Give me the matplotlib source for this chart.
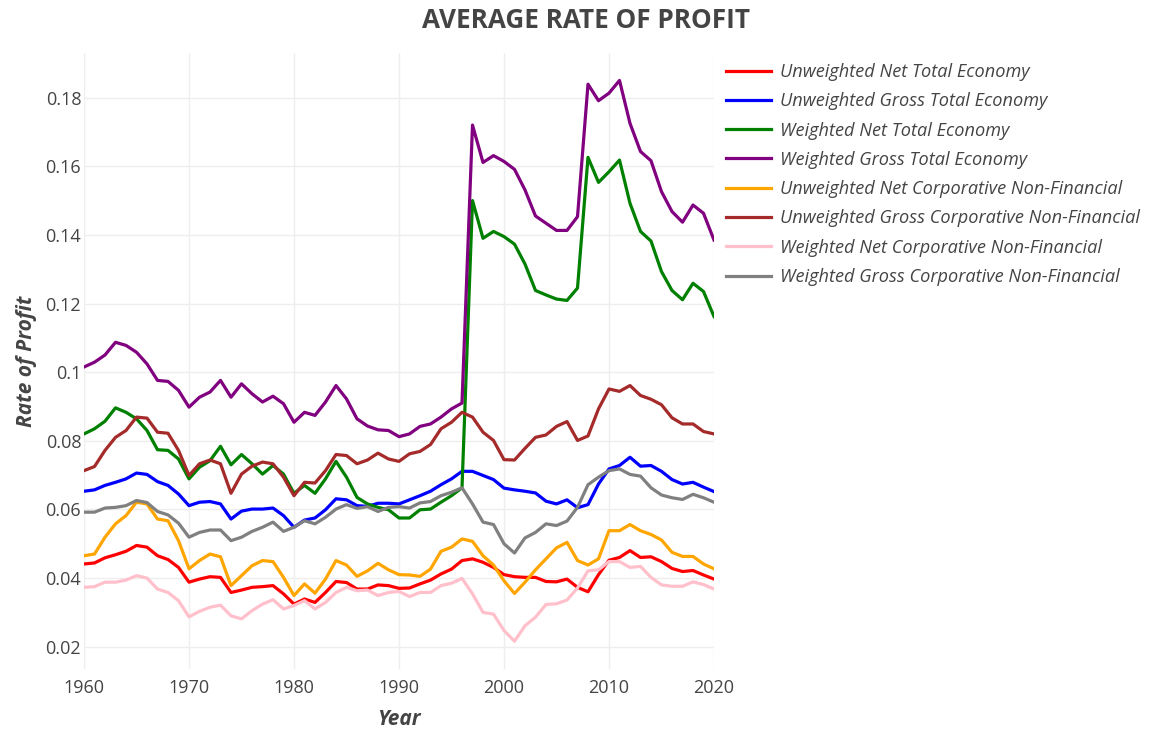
import matplotlib
matplotlib.use("Agg")
import matplotlib.pyplot as plt
from matplotlib.ticker import FuncFormatter

years = list(range(1960, 2021))

unweighted_net_total = [
    0.0441, 0.0444, 0.0459, 0.0468, 0.0478, 0.0495, 0.0490, 0.0465, 0.0454, 0.0431,
    0.0388, 0.0397, 0.0404, 0.0402, 0.0358, 0.0365, 0.0373, 0.0375, 0.0378, 0.0354,
    0.0324, 0.0339, 0.0329, 0.0358, 0.0390, 0.0387, 0.0368, 0.0368, 0.0380, 0.0378,
    0.0370, 0.0371, 0.0383, 0.0394, 0.0412, 0.0426, 0.0451, 0.0456, 0.0446, 0.0431,
    0.0410, 0.0404, 0.0402, 0.0402, 0.0390, 0.0389, 0.0397, 0.0373, 0.0360, 0.0410,
    0.0452, 0.0460, 0.0480, 0.0460, 0.0462, 0.0448, 0.0428, 0.0419, 0.0422, 0.0409,
    0.0397]
unweighted_gross_total = [
    0.0653, 0.0657, 0.0670, 0.0679, 0.0689, 0.0706, 0.0702, 0.0681, 0.0670, 0.0645,
    0.0611, 0.0621, 0.0623, 0.0616, 0.0572, 0.0595, 0.0601, 0.0601, 0.0604, 0.0582,
    0.0548, 0.0569, 0.0575, 0.0599, 0.0631, 0.0628, 0.0611, 0.0609, 0.0618, 0.0618,
    0.0616, 0.0628, 0.0640, 0.0653, 0.0672, 0.0689, 0.0711, 0.0711, 0.0699, 0.0687,
    0.0662, 0.0657, 0.0653, 0.0648, 0.0624, 0.0616, 0.0628, 0.0605, 0.0614, 0.0674,
    0.0718, 0.0728, 0.0752, 0.0726, 0.0728, 0.0711, 0.0687, 0.0674, 0.0679, 0.0665,
    0.0652]
weighted_net_total = [
    0.0820, 0.0835, 0.0857, 0.0896, 0.0883, 0.0864, 0.0830, 0.0774, 0.0772, 0.0747,
    0.0689, 0.0723, 0.0742, 0.0784, 0.0730, 0.0760, 0.0733, 0.0703, 0.0728, 0.0703,
    0.0647, 0.0670, 0.0647, 0.0689, 0.0740, 0.0694, 0.0635, 0.0616, 0.0606, 0.0599,
    0.0575, 0.0575, 0.0599, 0.0601, 0.0621, 0.0640, 0.0663, 0.1500, 0.1390, 0.1410,
    0.1395, 0.1373, 0.1315, 0.1238, 0.1225, 0.1213, 0.1209, 0.1245, 0.1626, 0.1553,
    0.1584, 0.1618, 0.1492, 0.1410, 0.1382, 0.1293, 0.1238, 0.1211, 0.1259, 0.1235,
    0.1162]
weighted_gross_total = [
    0.1015, 0.1029, 0.1050, 0.1087, 0.1078, 0.1058, 0.1024, 0.0976, 0.0973, 0.0947,
    0.0898, 0.0927, 0.0942, 0.0976, 0.0927, 0.0966, 0.0937, 0.0913, 0.0930, 0.0908,
    0.0854, 0.0883, 0.0874, 0.0913, 0.0961, 0.0922, 0.0864, 0.0843, 0.0832, 0.0830,
    0.0812, 0.0820, 0.0842, 0.0849, 0.0869, 0.0893, 0.0910, 0.1720, 0.1611, 0.1631,
    0.1614, 0.1591, 0.1531, 0.1455, 0.1434, 0.1413, 0.1413, 0.1453, 0.1839, 0.1791,
    0.1813, 0.1850, 0.1725, 0.1643, 0.1616, 0.1526, 0.1468, 0.1437, 0.1487, 0.1463,
    0.1385]
unweighted_net_corp = [
    0.0465, 0.0470, 0.0519, 0.0558, 0.0582, 0.0621, 0.0616, 0.0572, 0.0567, 0.0509,
    0.0427, 0.0451, 0.0470, 0.0462, 0.0378, 0.0407, 0.0436, 0.0451, 0.0448, 0.0402,
    0.0349, 0.0383, 0.0356, 0.0397, 0.0451, 0.0438, 0.0405, 0.0421, 0.0443, 0.0424,
    0.0410, 0.0409, 0.0405, 0.0426, 0.0478, 0.0490, 0.0514, 0.0507, 0.0465, 0.0438,
    0.0392, 0.0355, 0.0388, 0.0424, 0.0456, 0.0488, 0.0504, 0.0451, 0.0438, 0.0456,
    0.0538, 0.0538, 0.0556, 0.0538, 0.0527, 0.0511, 0.0475, 0.0463, 0.0463, 0.0441,
    0.0427]
unweighted_gross_corp = [
    0.0713, 0.0725, 0.0772, 0.0810, 0.0830, 0.0869, 0.0866, 0.0825, 0.0822, 0.0772,
    0.0699, 0.0733, 0.0744, 0.0733, 0.0647, 0.0703, 0.0726, 0.0738, 0.0733, 0.0694,
    0.0640, 0.0679, 0.0677, 0.0713, 0.0760, 0.0757, 0.0733, 0.0744, 0.0764, 0.0747,
    0.0740, 0.0762, 0.0769, 0.0789, 0.0835, 0.0854, 0.0883, 0.0869, 0.0825, 0.0801,
    0.0745, 0.0744, 0.0778, 0.0810, 0.0817, 0.0842, 0.0856, 0.0801, 0.0814, 0.0893,
    0.0951, 0.0944, 0.0961, 0.0932, 0.0921, 0.0905, 0.0867, 0.0849, 0.0849, 0.0827,
    0.0820]
weighted_net_corp = [
    0.0373, 0.0375, 0.0388, 0.0388, 0.0394, 0.0407, 0.0400, 0.0368, 0.0358, 0.0334,
    0.0287, 0.0303, 0.0315, 0.0321, 0.0290, 0.0281, 0.0305, 0.0324, 0.0337, 0.0310,
    0.0320, 0.0334, 0.0310, 0.0329, 0.0358, 0.0373, 0.0363, 0.0365, 0.0349, 0.0358,
    0.0361, 0.0346, 0.0358, 0.0358, 0.0378, 0.0385, 0.0399, 0.0354, 0.0300, 0.0295,
    0.0247, 0.0216, 0.0261, 0.0286, 0.0323, 0.0325, 0.0336, 0.0371, 0.0421, 0.0424,
    0.0448, 0.0448, 0.0431, 0.0434, 0.0402, 0.0380, 0.0376, 0.0376, 0.0389, 0.0381,
    0.0368]
weighted_gross_corp = [
    0.0592, 0.0592, 0.0604, 0.0606, 0.0611, 0.0626, 0.0620, 0.0594, 0.0584, 0.0560,
    0.0519, 0.0533, 0.0540, 0.0540, 0.0509, 0.0519, 0.0536, 0.0548, 0.0563, 0.0536,
    0.0548, 0.0567, 0.0558, 0.0577, 0.0601, 0.0614, 0.0603, 0.0608, 0.0594, 0.0606,
    0.0608, 0.0604, 0.0619, 0.0623, 0.0640, 0.0650, 0.0663, 0.0616, 0.0563, 0.0556,
    0.0500, 0.0473, 0.0517, 0.0533, 0.0558, 0.0553, 0.0566, 0.0606, 0.0672, 0.0694,
    0.0713, 0.0718, 0.0702, 0.0697, 0.0663, 0.0642, 0.0634, 0.0629, 0.0644, 0.0634,
    0.0621]

series = [
    ("Unweighted Net Total Economy", unweighted_net_total, "red"),
    ("Unweighted Gross Total Economy", unweighted_gross_total, "blue"),
    ("Weighted Net Total Economy", weighted_net_total, "green"),
    ("Weighted Gross Total Economy", weighted_gross_total, "purple"),
    ("Unweighted Net Corporative Non-Financial", unweighted_net_corp, "orange"),
    ("Unweighted Gross Corporative Non-Financial", unweighted_gross_corp, "brown"),
    ("Weighted Net Corporative Non-Financial", weighted_net_corp, "pink"),
    ("Weighted Gross Corporative Non-Financial", weighted_gross_corp, "gray"),
]

plt.rcParams["font.family"] = ["Open Sans", "DejaVu Sans"]
text_color = "#444444"

W, H = 1156, 730
fig = plt.figure(figsize=(W / 100, H / 100), dpi=100)
ax = fig.add_axes([84 / W, 1 - 669 / H, 630 / W, 616 / H])

for label, values, color in series:
    ax.plot(years, values, color=color, linewidth=2.3, label=label)

ax.set_xlim(1960, 2020)
ax.set_ylim(0.0135, 0.193)
ax.set_xticks(range(1960, 2021, 10))
ax.set_yticks([0.02, 0.04, 0.06, 0.08, 0.1, 0.12, 0.14, 0.16, 0.18])
ax.yaxis.set_major_formatter(FuncFormatter(lambda v, p: "%g" % round(v, 2)))
ax.grid(True, color="#eeeeee", linewidth=1)
ax.set_axisbelow(True)
for s in ax.spines.values():
    s.set_visible(False)
ax.tick_params(length=0, labelsize=13, labelcolor=text_color)
ax.tick_params(axis="x", pad=7)
ax.tick_params(axis="y", pad=2)

ax.set_xlabel("Year", fontsize=15, fontweight="bold", style="italic", color=text_color, labelpad=9)
ax.set_ylabel("Rate of Profit", fontsize=15, fontweight="bold", style="italic", color=text_color, labelpad=6)

fig.text(0.5 + 8 / W, 1 - 20 / H, "AVERAGE RATE OF PROFIT", ha="center", va="center",
         fontsize=18.8, fontweight="bold", color=text_color)

leg = fig.legend(loc="upper left", bbox_to_anchor=(726 / W, 1 - 63 / H), frameon=False,
                 fontsize=13.1, handlelength=2.5, handletextpad=0.46, labelspacing=0.62,
                 borderaxespad=0, borderpad=0)
for t in leg.get_texts():
    t.set_style("italic")
    t.set_color(text_color)

fig.savefig("out.png", dpi=100, facecolor="white")
